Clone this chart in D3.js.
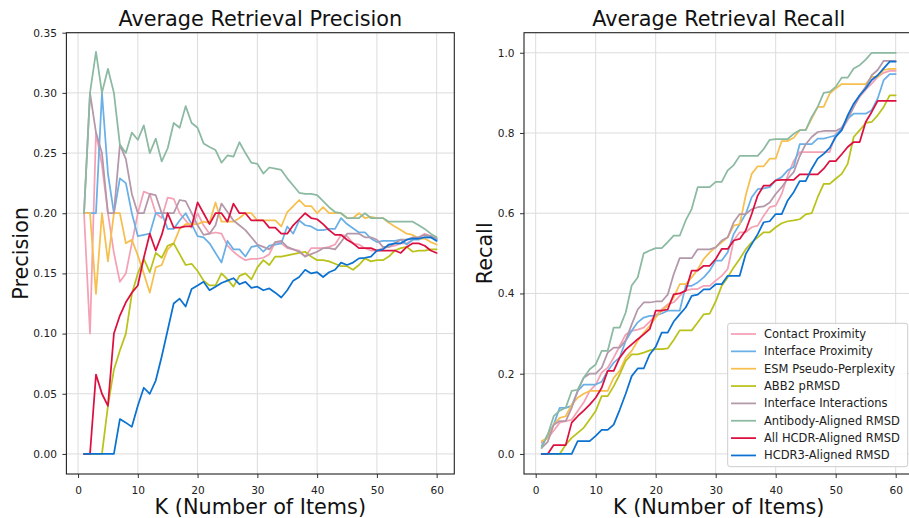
<!DOCTYPE html>
<html>
<head>
<meta charset="utf-8">
<script src="https://cdn.jsdelivr.net/npm/d3@7"></script>
<style>
	body { margin: 0; background: #fff; }
	text { font-family: "DejaVu Sans", sans-serif; }
</style>
</head>
<body>
<svg id="chart" width="909" height="518"></svg>
<script>
// K values on the x axis
let kValues = [1,2,3,4,5,6,7,8,9,10,11,12,13,14,15,16,17,18,19,20,
	21,22,23,24,25,26,27,28,29,30,31,32,33,34,35,36,37,38,39,40,
	41,42,43,44,45,46,47,48,49,50,51,52,53,54,55,56,57,58,59,60];

let seriesNames = ["Contact Proximity", "Interface Proximity", "ESM Pseudo-Perplexity", "ABB2 pRMSD",
	"Interface Interactions", "Antibody-Aligned RMSD", "All HCDR-Aligned RMSD", "HCDR3-Aligned RMSD"];
let seriesColors = ["#f4a1b5", "#6aafe6", "#f6bf4e", "#b9c21a", "#b497a9", "#8cb9a1", "#dc1040", "#0b72d2"];

let xTicks = [0, 10, 20, 30, 40, 50, 60];
let precTicks = [0, 0.05, 0.10, 0.15, 0.20, 0.25, 0.30, 0.35];
let recallTicks = [0, 0.2, 0.4, 0.6, 0.8, 1.0];

// precision @ K
let precContact = [.2,.1,.267,.24,.2,.167,.143,.15,.175,.2,.218,.216,.2,.196,.213,.212,.2,.194,.188,.2,
	.19,.183,.184,.183,.173,.168,.164,.161,.162,.162,.163,.166,.176,.175,.171,.17,.169,.164,.171,.171,
	.171,.172,.174,.182,.181,.175,.174,.171,.169,.169,.171,.172,.173,.175,.175,.178,.18,.183,.181,.178];
let precInterfaceProx = [.2,.2,.2,.3,.233,.2,.229,.225,.2,.181,.182,.183,.2,.2,.187,.187,.194,.2,.191,.181,
	.18,.175,.167,.159,.177,.17,.17,.164,.172,.173,.168,.173,.174,.175,.189,.183,.194,.19,.189,.186,
	.186,.187,.187,.196,.191,.1875,.184,.184,.179,.176,.177,.177,.177,.178,.174,.178,.178,.18,.18,.178];
let precEsm = [.2,.2,.133,.2,.16,.2,.2,.175,.178,.165,.15,.134,.155,.157,.17,.175,.187,.191,.191,.191,
	.193,.192,.209,.193,.193,.193,.196,.2,.2,.194,.194,.194,.194,.189,.201,.206,.211,.206,.206,.2,
	.205,.2,.2,.2,.196,.196,.2,.196,.197,.196,.196,.192,.189,.186,.183,.182,.179,.179,.176,.174];
let precAbb2 = [0,0,0,0,.04,.07,.086,.1,.133,.15,.162,.151,.167,.163,.173,.175,.166,.157,.158,.152,
	.144,.14,.14,.15,.145,.139,.148,.15,.145,.155,.161,.157,.164,.164,.165,.166,.167,.168,.164,.161,
	.161,.16,.158,.156,.156,.153,.157,.1625,.16,.161,.161,.164,.169,.171,.172,.168,.169,.169,.17,.17];
let precInterfaceInter = [.2,.3,.267,.25,.2,.2,.257,.245,.216,.2,.2,.216,.215,.2,.2,.2,.211,.21,.2,.19,
	.182,.183,.19,.208,.201,.194,.19,.186,.18,.174,.172,.17,.176,.177,.172,.17,.168,.164,.166,.168,
	.171,.171,.17,.176,.183,.183,.183,.18,.18,.178,.172,.172,.175,.178,.178,.18,.18,.182,.181,.179];
let precAntibody = [.2,.3,.334,.3,.32,.3,.257,.25,.267,.261,.273,.25,.262,.243,.254,.275,.271,.289,.275,.271,
	.258,.255,.2525,.242,.248,.247,.259,.25,.242,.241,.233,.238,.237,.236,.229,.223,.217,.216,.216,.215,
	.21,.205,.201,.2,.196,.196,.196,.2,.196,.196,.196,.193,.193,.193,.193,.193,.19,.187,.183,.18];
let precAllHcdr = [0,0,.066,.05,.04,.1,.115,.126,.134,.14,.163,.183,.169,.182,.2,.188,.188,.189,.189,.209,
	.2,.191,.2,.2,.193,.208,.2,.2,.194,.194,.194,.188,.188,.183,.183,.19,.195,.2,.196,.195,
	.191,.186,.182,.182,.178,.175,.171,.171,.171,.169,.169,.169,.169,.167,.172,.175,.175,.173,.169,.167];
let precHcdr3 = [0,0,0,0,0,0,.029,.026,.0225,.04,.055,.05,.061,.081,.103,.125,.129,.1225,.137,.14,
	.143,.136,.139,.142,.144,.146,.141,.143,.138,.139,.136,.1375,.134,.13,.136,.144,.147,.153,.15,.151,
	.147,.151,.153,.159,.157,.159,.1625,.163,.164,.169,.17,.174,.175,.175,.178,.179,.179,.18,.18,.177];

// recall @ K
let recContact = [.028,.04,.058,.078,.082,.085,.107,.128,.157,.173,.203,.215,.24,.269,.298,.307,.31,.315,.33,.345,
	.36,.373,.378,.394,.407,.411,.411,.419,.419,.432,.444,.461,.532,.5525,.5525,.565,.569,.594,.615,.619,
	.648,.694,.73,.7525,.7525,.7525,.7525,.7525,.7525,.798,.807,.832,.865,.89,.908,.923,.94,.95,.955,.955];
let recInterfaceProx = [.02,.048,.073,.115,.115,.12,.157,.173,.173,.173,.18,.207,.2275,.24,.282,.307,.328,.34,.344,.345,
	.35,.357,.357,.357,.419,.419,.4275,.44,.457,.482,.482,.5025,.548,.573,.598,.64,.66,.662,.665,.682,
	.69,.707,.715,.772,.772,.772,.786,.786,.79,.794,.811,.836,.848,.848,.848,.857,.886,.932,.947,.947];
let recEsm = [.032,.04,.073,.09,.094,.123,.14,.15,.157,.157,.157,.157,.19,.207,.24,.257,.282,.302,.319,.34,
	.357,.369,.39,.423,.423,.44,.46,.486,.5025,.515,.5275,.54,.569,.573,.644,.698,.717,.717,.736,.736,
	.78,.78,.788,.807,.807,.836,.865,.865,.898,.911,.922,.922,.922,.922,.922,.94,.94,.957,.96,.96];
let recAbb2 = [0,0,0,0,.023,.04,.0525,.065,.086,.107,.144,.144,.169,.198,.232,.248,.248,.2525,.258,.261,
	.261,.263,.284,.308,.308,.308,.3275,.348,.35,.38,.419,.44,.465,.486,.51,.5275,.54,.5525,.5525,.565,
	.575,.58,.582,.585,.597,.6,.64,.673,.673,.686,.698,.723,.79,.807,.825,.8275,.844,.865,.894,.894];
let recInterfaceInter = [.015,.03,.073,.082,.082,.115,.157,.19,.2,.2,.215,.2525,.265,.265,.283,.323,.36,.3775,.3775,.38,
	.38,.397,.448,.488,.488,.488,.51,.51,.51,.515,.532,.54,.5775,.598,.598,.61,.615,.617,.627,.648,
	.665,.686,.7025,.742,.772,.79,.8025,.805,.805,.805,.813,.838,.865,.894,.915,.944,.957,.98,.98,.98];
let recAntibody = [.015,.048,.094,.108,.115,.157,.16,.19,.211,.223,.257,.257,.315,.315,.3525,.42,.44,.5,.507,.513,
	.513,.528,.544,.544,.582,.611,.665,.665,.665,.678,.678,.707,.72,.743,.743,.743,.743,.76,.783,.785,
	.785,.785,.798,.807,.807,.84,.865,.9,.9025,.915,.938,.938,.961,.969,.983,1,1,1,1,1];
let recAllHcdr = [0,0,.022,.022,.022,.078,.094,.108,.123,.14,.165,.207,.207,.24,.26,.273,.286,.298,.311,.357,
	.357,.36,.398,.4,.407,.457,.457,.469,.469,.486,.511,.511,.532,.536,.557,.598,.644,.669,.669,.682,
	.683,.683,.683,.697,.697,.697,.697,.711,.73,.73,.747,.765,.7775,.7775,.8275,.8525,.88,.88,.88,.88];
let recHcdr3 = [0,0,0,0,0,0,.032,.032,.032,.045,.06,.06,.073,.11,.15,.194,.213,.213,.248,.267,
	.3025,.3025,.33,.348,.365,.394,.397,.41,.41,.423,.423,.444,.444,.444,.498,.523,.548,.5775,.58,.598,
	.598,.632,.6525,.68,.68,.711,.736,.748,.763,.79,.807,.844,.873,.894,.911,.932,.944,.961,.978,.978];

let precSeries = [precContact, precInterfaceProx, precEsm, precAbb2, precInterfaceInter, precAntibody, precAllHcdr, precHcdr3];
let recSeries = [recContact, recInterfaceProx, recEsm, recAbb2, recInterfaceInter, recAntibody, recAllHcdr, recHcdr3];

let svg = d3.select("#chart");
let plotTop = 32.7;
let plotBottom = 474;
let gridColor = "#dcdcdc";

function drawPanel(p) {
	let x = d3.scaleLinear().domain([-1.95, 62.95]).range([p.left, p.right]);
	let y = d3.scaleLinear().domain(p.yDomain).range([plotBottom, plotTop]);
	let g = svg.append("g");

	// grid
	g.append("g").selectAll("line").data(xTicks).join("line")
		.attr("x1", d => x(d)).attr("x2", d => x(d))
		.attr("y1", plotTop).attr("y2", plotBottom)
		.attr("stroke", gridColor).attr("stroke-width", 1);
	g.append("g").selectAll("line").data(p.yTicks).join("line")
		.attr("x1", p.left).attr("x2", p.right)
		.attr("y1", d => y(d)).attr("y2", d => y(d))
		.attr("stroke", gridColor).attr("stroke-width", 1);

	// series
	let line = d3.line().x((d, i) => x(kValues[i])).y(d => y(d));
	g.append("g").selectAll("path").data(p.series).join("path")
		.attr("d", d => line(d))
		.attr("fill", "none")
		.attr("stroke", (d, i) => seriesColors[i])
		.attr("stroke-width", 1.75)
		.attr("stroke-linejoin", "round")
		.attr("stroke-linecap", "round");

	// axes
	let xAxis = g.append("g").attr("transform", `translate(0,${plotBottom})`)
		.call(d3.axisBottom(x).tickValues(xTicks).tickSize(4).tickPadding(8).tickSizeOuter(0));
	let yAxis = g.append("g").attr("transform", `translate(${p.left},0)`)
		.call(d3.axisLeft(y).tickValues(p.yTicks).tickFormat(d3.format(p.fmt)).tickSize(4).tickPadding(5.5).tickSizeOuter(0));
	[xAxis, yAxis].forEach(a => {
		a.select(".domain").remove();
		a.selectAll("line").attr("stroke", "#333");
		a.selectAll("text").attr("fill", "#222").style("font-size", "10.6px").style("font-family", "DejaVu Sans");
	});

	// frame
	g.append("rect")
		.attr("x", p.left).attr("y", plotTop)
		.attr("width", p.right - p.left).attr("height", plotBottom - plotTop)
		.attr("fill", "none").attr("stroke", "#222").attr("stroke-width", 1.1);

	let cx = (p.left + p.right) / 2;
	g.append("text").attr("x", cx).attr("y", 26)
		.attr("text-anchor", "middle").style("font-size", "20.8px").attr("fill", "#111")
		.text(p.title);
	g.append("text").attr("x", cx).attr("y", 514)
		.attr("text-anchor", "middle").style("font-size", "20.8px").attr("fill", "#111")
		.text("K (Number of Items)");
	g.append("text")
		.attr("transform", `translate(${p.labelX},${(plotTop + plotBottom) / 2}) rotate(-90)`)
		.attr("text-anchor", "middle").style("font-size", "20.8px").attr("fill", "#111")
		.text(p.yLabel);
}

drawPanel({
	left: 66.4, right: 454.3,
	yDomain: [-1/60, 0.35], yTicks: precTicks, fmt: ".2f",
	series: precSeries, title: "Average Retrieval Precision",
	yLabel: "Precision", labelX: 28
});

drawPanel({
	left: 524, right: 913.4,
	yDomain: [-0.05, 1.05], yTicks: recallTicks, fmt: ".1f",
	series: recSeries, title: "Average Retrieval Recall",
	yLabel: "Recall", labelX: 492
});

// legend
let legend = svg.append("g");
legend.append("rect")
	.attr("x", 727.7).attr("y", 323.3).attr("width", 180).attr("height", 143.4)
	.attr("rx", 2.5).attr("fill", "#fff").attr("fill-opacity", 0.85)
	.attr("stroke", "#cccccc").attr("stroke-width", 1);
let rows = legend.selectAll("g.row").data(seriesNames).join("g")
	.attr("class", "row")
	.attr("transform", (d, i) => `translate(0,${334 + i * 17.35})`);
rows.append("line")
	.attr("x1", 731).attr("x2", 756).attr("y1", 0).attr("y2", 0)
	.attr("stroke", (d, i) => seriesColors[i]).attr("stroke-width", 1.75);
rows.append("text")
	.attr("x", 764).attr("y", 4)
	.style("font-size", "11.5px").attr("fill", "#222")
	.text(d => d);
</script>
</body>
</html>
